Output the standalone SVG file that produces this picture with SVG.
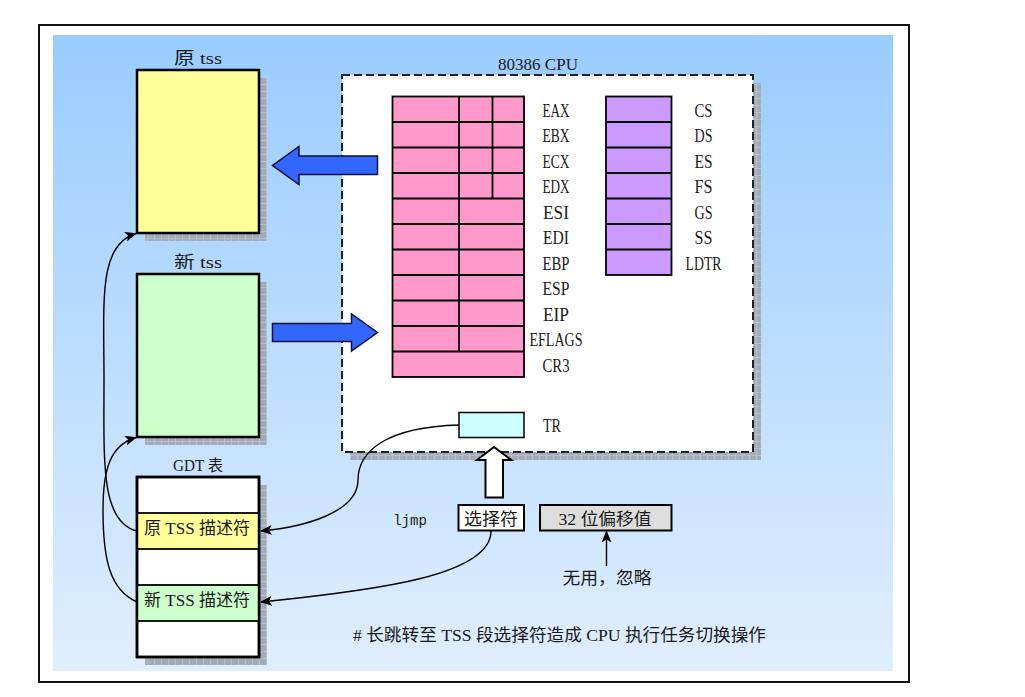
<svg xmlns="http://www.w3.org/2000/svg" width="1025" height="697" viewBox="0 0 1025 697">
<style>
text{font-family:"Liberation Serif","Noto Sans CJK SC",serif;fill:#1a1a1a;}
.lbl{font-size:16px;text-anchor:middle;}
.reg{font-size:18px;text-anchor:middle;}
.box{stroke:#000;stroke-width:2.5;}
.cell{stroke:#000;stroke-width:1.8;}
.conn{fill:none;stroke:#000;stroke-width:1.4;}
.big{fill:#3366ff;stroke:#111133;stroke-width:1.5;stroke-linejoin:miter;}
</style>
<defs>
<linearGradient id="bg" x1="0" y1="0" x2="0" y2="1">
<stop offset="0" stop-color="#99ccff"/>
<stop offset="1" stop-color="#e0eeff"/>
</linearGradient>
<pattern id="grid" width="7" height="7" patternUnits="userSpaceOnUse">
<rect width="7" height="7" fill="#a2abb8"/>
<path d="M0,0.5H7M0.5,0V7" stroke="#bec4ce" stroke-width="0.8"/>
</pattern>
<marker id="ah" viewBox="0 0 12 10" refX="11" refY="5" markerWidth="12" markerHeight="10" markerUnits="userSpaceOnUse" orient="auto">
<path d="M0,0 L12,5 L0,10 L3,5 z" fill="#000"/>
</marker>
</defs>

<g id="frame">
<rect x="39" y="25" width="870" height="657" fill="#fff" stroke="#111" stroke-width="2"/>
<rect x="53" y="35" width="840" height="636" fill="url(#bg)"/>
</g>

<g id="tss-old">
<rect x="145" y="78" width="122" height="163" fill="url(#grid)"/>
<rect x="137" y="70" width="122" height="163" fill="#ffff99" class="box"/>
<text x="198" y="64" class="lbl" style="font-size:17px" textLength="48" lengthAdjust="spacingAndGlyphs">原 tss</text>
</g>

<g id="tss-new">
<rect x="145" y="282" width="122" height="163" fill="url(#grid)"/>
<rect x="137" y="274" width="122" height="163" fill="#ccffcc" class="box"/>
<text x="198" y="268" class="lbl" style="font-size:17px" textLength="48" lengthAdjust="spacingAndGlyphs">新 tss</text>
</g>

<g id="gdt">
<rect x="145" y="485" width="122" height="180" fill="url(#grid)"/>
<rect x="137" y="477" width="122" height="180" fill="#fff" class="box"/>
<rect x="137" y="513" width="122" height="36" fill="#ffff99" class="cell"/>
<rect x="137" y="585" width="122" height="36" fill="#ccffcc" class="cell"/>
<rect x="137" y="477" width="122" height="180" fill="none" class="box"/>
<text x="198" y="471" class="lbl" textLength="50" lengthAdjust="spacingAndGlyphs">GDT 表</text>
<text x="197" y="534" class="lbl" style="font-size:17px" textLength="106" lengthAdjust="spacingAndGlyphs">原 TSS 描述符</text>
<text x="197" y="606" class="lbl" style="font-size:17px" textLength="106" lengthAdjust="spacingAndGlyphs">新 TSS 描述符</text>
</g>

<g id="cpu">
<rect x="350" y="83" width="411" height="377" fill="url(#grid)"/>
<rect x="342" y="75" width="411" height="377" fill="#fff" stroke="#222" stroke-width="2" stroke-dasharray="8,4"/>
<text x="538" y="70" class="lbl" style="font-size:17px" textLength="80" lengthAdjust="spacingAndGlyphs">80386  CPU</text>
</g>

<g id="gp-registers">
<rect x="392.5" y="96.5" width="131.5" height="280.5" fill="#ff99cc" class="cell"/>
<path class="cell" fill="none" d="M392.5,122H524M392.5,147.5H524M392.5,173H524M392.5,198.5H524M392.5,224H524M392.5,249.5H524M392.5,275H524M392.5,300.5H524M392.5,326H524M392.5,351.5H524M459,96.5V351.5M492.5,96.5V198.5"/>
<text x="556" y="116.5" class="reg" textLength="27" lengthAdjust="spacingAndGlyphs">EAX</text>
<text x="556" y="142" class="reg" textLength="27" lengthAdjust="spacingAndGlyphs">EBX</text>
<text x="556" y="167.5" class="reg" textLength="27" lengthAdjust="spacingAndGlyphs">ECX</text>
<text x="556" y="193" class="reg" textLength="27" lengthAdjust="spacingAndGlyphs">EDX</text>
<text x="556" y="218.5" class="reg" textLength="26" lengthAdjust="spacingAndGlyphs">ESI</text>
<text x="556" y="244" class="reg" textLength="26" lengthAdjust="spacingAndGlyphs">EDI</text>
<text x="556" y="269.5" class="reg" textLength="27" lengthAdjust="spacingAndGlyphs">EBP</text>
<text x="556" y="295" class="reg" textLength="27" lengthAdjust="spacingAndGlyphs">ESP</text>
<text x="556" y="320.5" class="reg" textLength="26" lengthAdjust="spacingAndGlyphs">EIP</text>
<text x="556" y="346" class="reg" textLength="53" lengthAdjust="spacingAndGlyphs">EFLAGS</text>
<text x="556" y="371.5" class="reg" textLength="27" lengthAdjust="spacingAndGlyphs">CR3</text>
</g>

<g id="seg-registers">
<rect x="606" y="96.5" width="65.5" height="178.5" fill="#cc99ff" class="cell"/>
<path class="cell" fill="none" d="M606,122H671.5M606,147.5H671.5M606,173H671.5M606,198.5H671.5M606,224H671.5M606,249.5H671.5"/>
<text x="703.5" y="116.5" class="reg" textLength="18" lengthAdjust="spacingAndGlyphs">CS</text>
<text x="703.5" y="142" class="reg" textLength="18" lengthAdjust="spacingAndGlyphs">DS</text>
<text x="703.5" y="167.5" class="reg" textLength="18" lengthAdjust="spacingAndGlyphs">ES</text>
<text x="703.5" y="193" class="reg" textLength="18" lengthAdjust="spacingAndGlyphs">FS</text>
<text x="703.5" y="218.5" class="reg" textLength="18" lengthAdjust="spacingAndGlyphs">GS</text>
<text x="703.5" y="244" class="reg" textLength="18" lengthAdjust="spacingAndGlyphs">SS</text>
<text x="703.5" y="269.5" class="reg" textLength="36" lengthAdjust="spacingAndGlyphs">LDTR</text>
</g>

<g id="tr">
<rect x="459" y="412.5" width="65" height="25" fill="#ccffff" stroke="#000" stroke-width="1.5"/>
<text x="552" y="431.5" class="reg" textLength="18" lengthAdjust="spacingAndGlyphs">TR</text>
</g>

<g id="ljmp">
<text x="410" y="525" style="font-family:'Liberation Mono',monospace;font-size:14px;text-anchor:middle">ljmp</text>
</g>

<g id="selector">
<rect x="458.5" y="505" width="65.5" height="25.5" fill="#fff" stroke="#000" stroke-width="2"/>
<text x="491" y="525" class="lbl" style="font-size:17px" textLength="54" lengthAdjust="spacingAndGlyphs">选择符</text>
</g>

<g id="offset">
<rect x="540" y="505" width="131.5" height="25.5" fill="#dddddd" stroke="#000" stroke-width="2"/>
<text x="605" y="525" class="lbl" style="font-size:17px" textLength="93" lengthAdjust="spacingAndGlyphs">32 位偏移值</text>
</g>

<g id="ignore-note">
<text x="607" y="584" class="lbl" style="font-size:17px" textLength="89" lengthAdjust="spacingAndGlyphs">无用，忽略</text>
</g>

<g id="footnote">
<text x="353" y="641" style="font-size:17px" textLength="413" lengthAdjust="spacingAndGlyphs"># 长跳转至 TSS 段选择符造成 CPU 执行任务切换操作</text>
</g>

<g id="connectors">
<path class="big" d="M377.5,156 H299 V146.5 L272.5,165.5 L299,184.5 V174.5 H377.5 Z"/>
<path class="big" d="M272.5,323.5 H351.5 V314 L377.5,332.5 L351.5,351 V341.5 H272.5 Z"/>
<path d="M485.5,497.5 V460 H477 L494,447 L511.5,460 H503 V497.5 Z" fill="#fff" stroke="#000" stroke-width="2"/>
<path class="conn" marker-end="url(#ah)" d="M459,425 C385,427 358,452 358,480 C358,512 305,527 261,531"/>
<path class="conn" marker-end="url(#ah)" d="M491,531 C491,575 380,590 261,602"/>
<path class="conn" marker-end="url(#ah)" d="M137,531 C100,522 104,460 104,380 C104,300 98,245 136,233.5"/>
<path class="conn" marker-end="url(#ah)" d="M137,602 C110,590 103,560 103,510 C103,470 110,445 136,437.5"/>
<path class="conn" stroke-width="1.6" marker-end="url(#ah)" d="M606.5,566 V531.5"/>
</g>
</svg>
